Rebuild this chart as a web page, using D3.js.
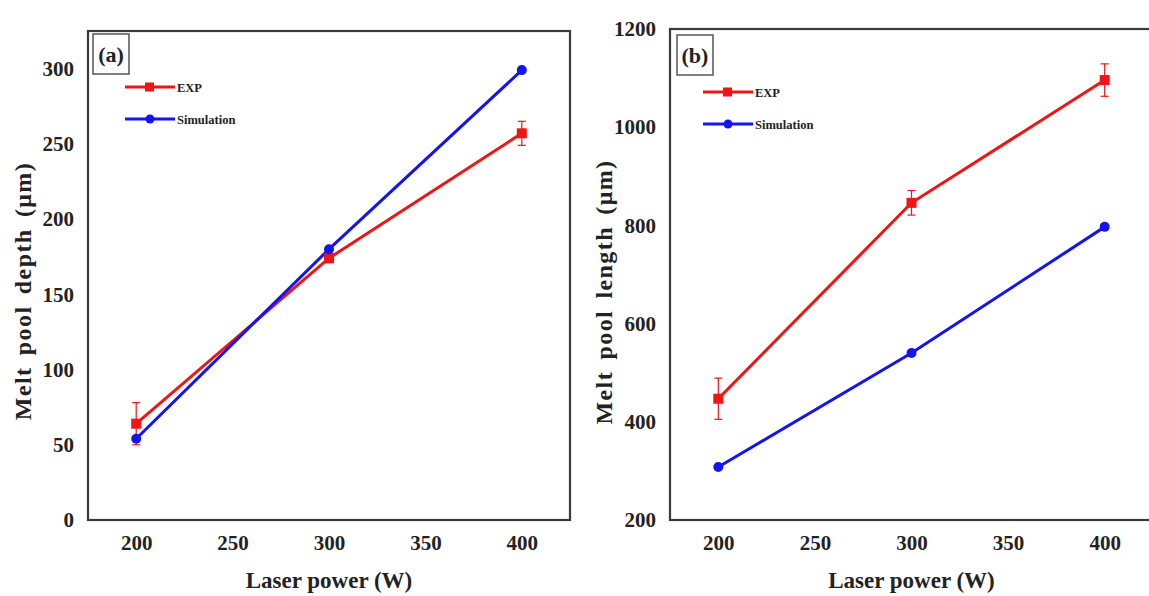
<!DOCTYPE html>
<html><head><meta charset="utf-8">
<script src="https://cdn.jsdelivr.net/npm/d3@7"></script>
<style>
html,body{margin:0;padding:0;background:#fff;overflow:hidden;}
svg text{font-family:"Liberation Serif","Times New Roman",serif;font-weight:bold;fill:#222;}
</style></head>
<body><svg id="c" width="1149" height="596"></svg>
<script>
const power = [200, 300, 400];
const xTicks = [200, 250, 300, 350, 400];
const depthExp = [64, 174, 257];
const depthExpErr = [14, 3, 8];
const depthSim = [54, 180, 299];
const depthTicks = [0, 50, 100, 150, 200, 250, 300];
const lengthExp = [447, 846, 1096];
const lengthExpErr = [42, 25, 33];
const lengthSim = [308, 540, 797];
const lengthTicks = [200, 400, 600, 800, 1000, 1200];
const seriesNames = ["EXP", "Simulation"];
const RED = "#f01414", BLUE = "#1414f0";

const svg = d3.select("#c");

function panel(opt){
  const g = svg.append("g");
  const x = d3.scaleLinear().domain([175, 425]).range([opt.x0, opt.x1]);
  const y = d3.scaleLinear().domain(opt.yDomain).range([opt.y1, opt.y0]);

  const xa = g.append("g").attr("transform", `translate(0,${opt.y1})`)
    .call(d3.axisBottom(x).tickValues(xTicks).tickSize(0).tickPadding(15).tickFormat(d3.format("d")));
  xa.select(".domain").remove();
  xa.selectAll("text").style("font-size","21px").attr("fill","#222");
  const ya = g.append("g").attr("transform", `translate(${opt.x0},0)`)
    .call(d3.axisLeft(y).tickValues(opt.yTicks).tickSize(0).tickPadding(14).tickFormat(d3.format("d")));
  ya.select(".domain").remove();
  ya.selectAll("text").style("font-size","21px").attr("fill","#222");

  g.append("rect").attr("x", opt.x0).attr("y", opt.y0)
    .attr("width", opt.x1 - opt.x0).attr("height", opt.y1 - opt.y0)
    .attr("fill","none").attr("stroke","#3a3a3a").attr("stroke-width",2.2);

  g.append("text").attr("x", (x(200)+x(400))/2).attr("y", 588)
    .attr("text-anchor","middle").style("font-size","23px").text("Laser power (W)");
  g.append("text").attr("transform", `translate(${opt.ylabX},${opt.ylabY}) rotate(-90)`)
    .attr("text-anchor","middle").style("font-size","24px").style("word-spacing","4px").style("letter-spacing","1.4px").text(opt.ylab);

  const line = d3.line().x((d,i)=>x(power[i])).y(d=>y(d));
  g.append("path").datum(opt.exp).attr("d", line).attr("fill","none").attr("stroke",RED).attr("stroke-width",3);
  g.append("path").datum(opt.sim).attr("d", line).attr("fill","none").attr("stroke",BLUE).attr("stroke-width",3);

  opt.exp.forEach((v,i)=>{
    const cx = x(power[i]);
    const e = opt.err[i];
    g.append("line").attr("x1",cx).attr("x2",cx).attr("y1",y(v+e)).attr("y2",y(v-e)).attr("stroke",RED).attr("stroke-width",1.2);
    [v+e, v-e].forEach(t=>{
      g.append("line").attr("x1",cx-4).attr("x2",cx+4).attr("y1",y(t)).attr("y2",y(t)).attr("stroke",RED).attr("stroke-width",1.2);
    });
  });
  g.selectAll(null).data(opt.exp).enter().append("rect")
    .attr("x",(d,i)=>x(power[i])-5).attr("y",d=>y(d)-5).attr("width",10).attr("height",10).attr("fill",RED);
  g.selectAll(null).data(opt.sim).enter().append("circle")
    .attr("cx",(d,i)=>x(power[i])).attr("cy",d=>y(d)).attr("r",5).attr("fill",BLUE);

  g.append("rect").attr("x", opt.box[0]).attr("y", opt.box[1]).attr("width", 36).attr("height", 40)
    .attr("fill","none").attr("stroke","#555").attr("stroke-width",1.5);
  g.append("text").attr("x", opt.box[0]+18).attr("y", opt.box[1]+28).attr("text-anchor","middle")
    .style("font-size","22px").text(opt.tag);

  const lg = opt.leg;
  [[RED,"sq"],[BLUE,"ci"]].forEach((s,i)=>{
    const yy = lg[1] + i*32;
    g.append("line").attr("x1",lg[0]).attr("x2",lg[0]+50).attr("y1",yy).attr("y2",yy).attr("stroke",s[0]).attr("stroke-width",3);
    if(s[1]==="sq") g.append("rect").attr("x",lg[0]+20).attr("y",yy-4.5).attr("width",9).attr("height",9).attr("fill",s[0]);
    else g.append("circle").attr("cx",lg[0]+25).attr("cy",yy).attr("r",4.5).attr("fill",s[0]);
    g.append("text").attr("x",lg[0]+52).attr("y",yy+5).style("font-size","12.5px").text(seriesNames[i]);
  });
}

panel({x0:88, x1:570, y0:31, y1:520, yDomain:[0,325], yTicks:depthTicks,
  exp:depthExp, err:depthExpErr, sim:depthSim, ylab:"Melt pool depth (\u03bcm)", ylabX:31, ylabY:291,
  box:[93,34], tag:"(a)", leg:[125,87]});
panel({x0:670, x1:1153, y0:29, y1:520, yDomain:[200,1200], yTicks:lengthTicks,
  exp:lengthExp, err:lengthExpErr, sim:lengthSim, ylab:"Melt pool length (\u03bcm)", ylabX:612, ylabY:292,
  box:[677,35], tag:"(b)", leg:[703,92]});
</script></body></html>
